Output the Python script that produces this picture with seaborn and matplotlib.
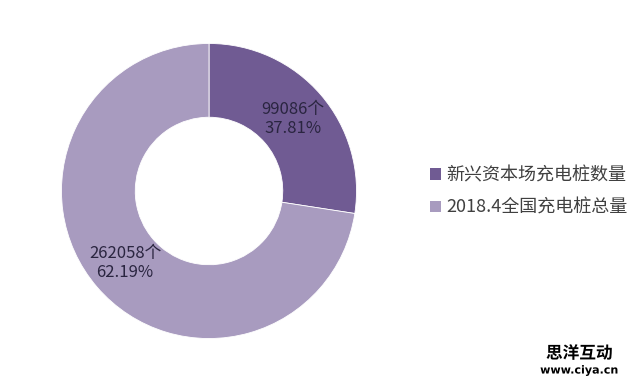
import numpy as np
import seaborn as sns
import matplotlib.pyplot as plt
from matplotlib.patches import Patch
import matplotlib.patheffects as pe

sns.set_theme(style="white")
plt.rcParams['font.family'] = ['Noto Sans CJK SC', 'DejaVu Sans']

# data
names = ["新兴资本场充电桩数量", "2018.4全国充电桩总量"]
counts = [99086, 262058]
pct_labels = ["37.81%", "62.19%"]
colors = ["#705b93", "#a89bbf"]

fig = plt.figure(figsize=(6.4, 3.82), dpi=100)
# donut centre ~ (209,191) px, radius ~149 px
ax = fig.add_axes([(209 - 149) / 640, (382 - 191 - 149) / 382, 298 / 640, 298 / 382])

wedges, _ = ax.pie(counts, colors=colors, startangle=90, counterclock=False,
                   radius=1.0, wedgeprops=dict(width=0.5, edgecolor="white", linewidth=0.6))
ax.set_xlim(-1.01, 1.01)
ax.set_ylim(-1.01, 1.01)
ax.set_aspect("equal")

# slice labels in the middle of the ring
for w, n, p in zip(wedges, counts, pct_labels):
    mid = np.deg2rad((w.theta1 + w.theta2) / 2)
    r = 0.75
    ax.text(r * np.cos(mid), r * np.sin(mid), f"{n}个\n{p}",
            ha="center", va="center", fontsize=12, color="#2a2540",
            linespacing=1.2)

handles = [Patch(facecolor=c, edgecolor="none") for c in colors]
fig.legend(handles, names, loc="center left", bbox_to_anchor=(0.646, 0.498),
           frameon=False, fontsize=13, labelcolor="#404040",
           handlelength=0.6, handleheight=0.6, handletextpad=0.3,
           labelspacing=0.8)

# watermark in the corner
wm = [pe.withStroke(linewidth=2.5, foreground="white")]
fig.text(0.905, 0.075, "思洋互动", ha="center", va="center", fontsize=12,
         fontweight="bold", color="black", path_effects=wm)
fig.text(0.905, 0.03, "www.ciya.cn", ha="center", va="center", fontsize=8,
         fontweight="bold", color="black", family=["DejaVu Sans"], path_effects=wm)

fig.savefig("out.png", dpi=100)
